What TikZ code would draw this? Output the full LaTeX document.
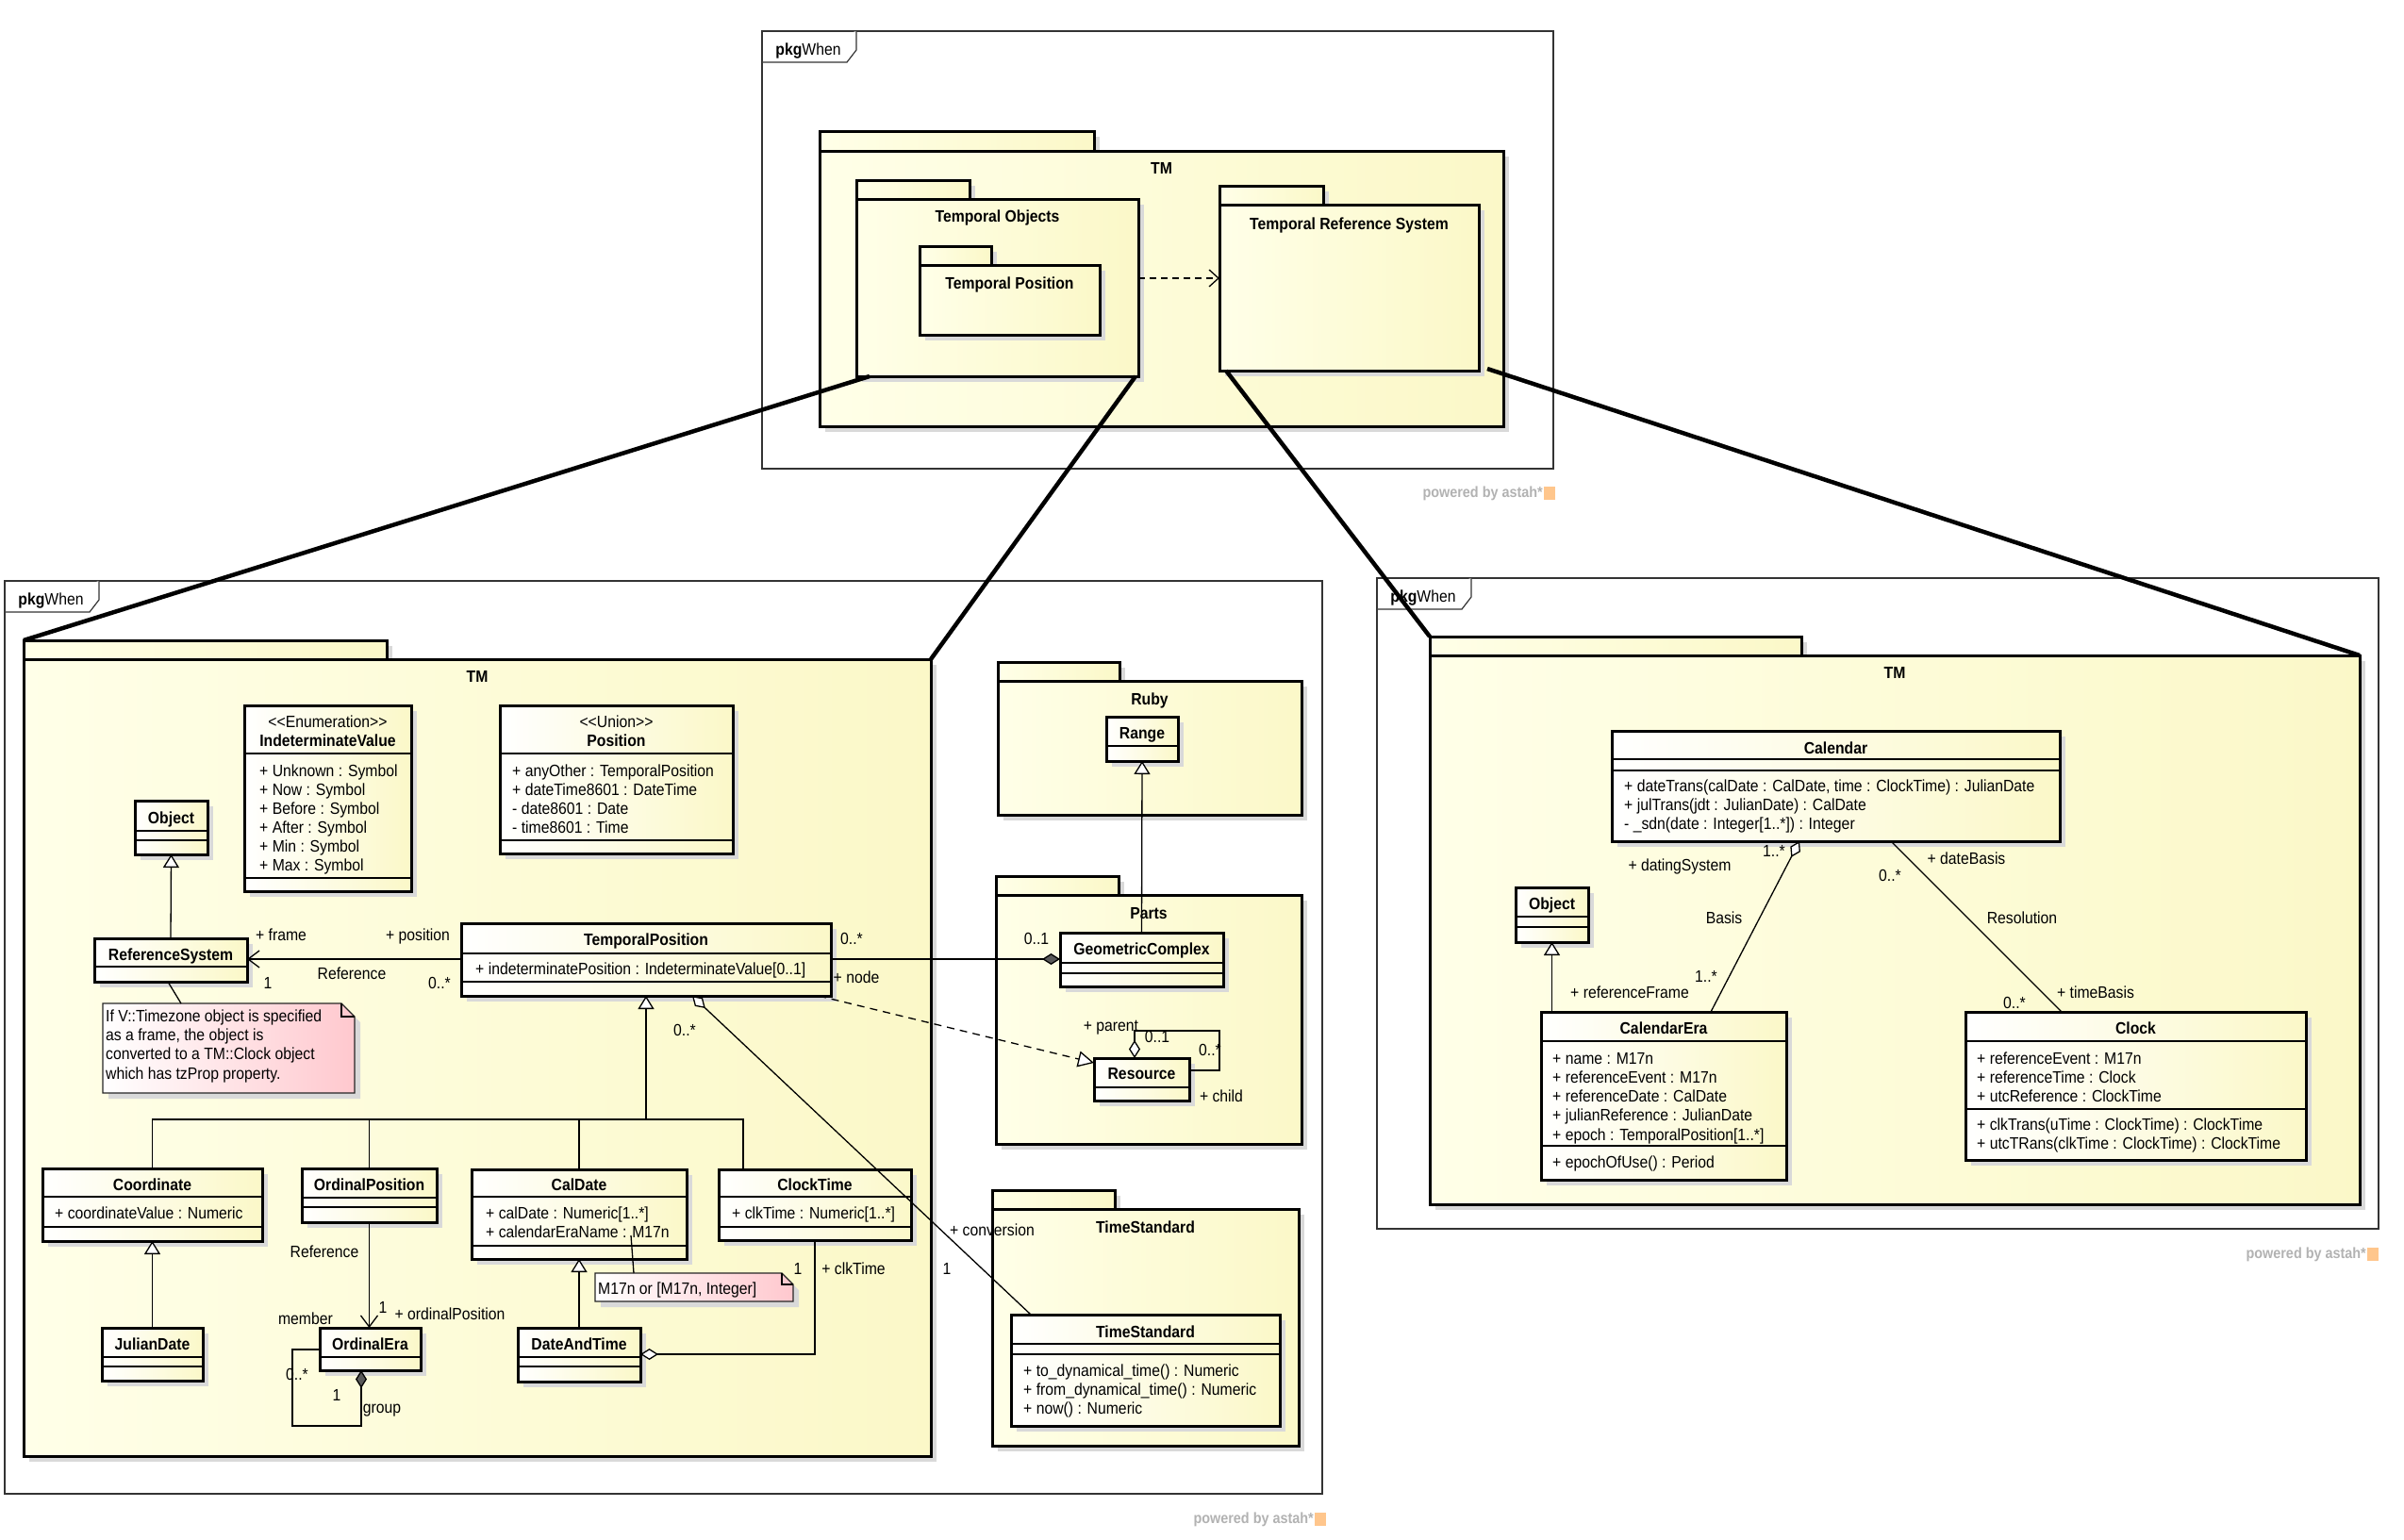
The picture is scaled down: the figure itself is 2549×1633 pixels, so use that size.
\documentclass[tikz,border=0pt]{standalone}
\usepackage{fontspec}
\setmainfont{Liberation Sans}[FakeStretch=0.9]
\usetikzlibrary{arrows.meta, positioning, shadows}
\definecolor{umlyel}{RGB}{251,248,200}
\definecolor{umlpale}{RGB}{255,255,232}
\definecolor{notepink}{RGB}{255,200,206}
\tikzset{
    frmline/.style={draw=black!80, line width=1.2pt},
    frm/.style={frmline, fill=white, anchor=north west, inner sep=0pt, outer sep=0pt},
    pkg/.style={draw=black, line width=3pt, left color=umlpale, right color=umlyel, drop shadow={shadow xshift=6pt, shadow yshift=-6pt, fill=black!15, opacity=1}, anchor=north west, inner sep=0pt, outer sep=0pt},
    cls/.style={pkg, left color=white},
    notebox/.style={anchor=north west, inner sep=0pt, outer sep=0pt},
    notefill/.style={draw=black!85, line width=1.2pt, left color=white, right color=notepink, drop shadow={shadow xshift=6pt, shadow yshift=-6pt, fill=black!15, opacity=1}},
    sep/.style={line width=1.2pt},
    txt/.style={inner sep=0pt, yshift=-1.5pt, font=\fontsize{17.5}{20}\selectfont, text height=12.5pt, text depth=3.5pt},
    attr/.style={txt, anchor=west},
    cname/.style={txt, font=\fontsize{17.5}{20}\selectfont\bfseries},
    link/.style={line width=1.3pt},
    navi/.style={link, -{Straight Barb[length=12pt, width=18pt]}},
    gen/.style={link, -{Triangle[length=14pt, width=17pt, fill=white]}},
    aggr/.style={link, {Diamond[length=19pt, width=12pt, fill=white]}-},
    comp/.style={link, {Diamond[length=19pt, width=12pt, fill=black!65]}-},
    dep/.style={link, dash pattern=on 7pt off 5pt, -{Straight Barb[length=10pt, width=18pt]}},
    realize/.style={link, dash pattern=on 8pt off 6pt, -{Triangle[length=17pt, width=17pt, fill=white]}},
    bigline/.style={line width=4.5pt},
    astah/.style={inner sep=0pt, anchor=east, text=black!30, font=\fontsize{16}{18}\selectfont\bfseries},
    astlogo/.style={inner sep=0pt, minimum width=12pt, minimum height=14pt, fill=orange!45}
}
\begin{document}
\begin{tikzpicture}[x=1pt, y=-1pt]
    \useasboundingbox (0,0) rectangle (2549,1633);
    \fill[white] (0,0) rectangle (2549,1633);

    \node[frm, minimum width=839pt, minimum height=464pt] (frameT) at (808,33) {};
    \draw[frm] ([xshift=100pt]frameT.north west) -- ++(0,20) -- ++(-10,13) -- ++(-90,0);
    \node[txt] (frameTlbl) at ([xshift=49pt, yshift=-19pt]frameT.north west) {\textbf{pkg}When};
    \node[pkg, minimum width=291pt, minimum height=21pt] (tmTtab) at (869,139) {};
    \node[pkg, minimum width=725pt, minimum height=292pt] (tmT) at (tmTtab.south west) {};
    \node[cname] (tmTlbl) at ([yshift=-18pt]tmT.north) {TM};
    \node[pkg, minimum width=120pt, minimum height=20pt] (tobjtab) at (908,191) {};
    \node[pkg, minimum width=299pt, minimum height=188pt] (tobj) at (tobjtab.south west) {};
    \node[cname] (tobjlbl) at ([yshift=-18pt]tobj.north) {Temporal Objects};
    \node[pkg, minimum width=76pt, minimum height=20pt] (tpostab) at (975,261) {};
    \node[pkg, minimum width=191pt, minimum height=74pt] (tpos) at (tpostab.south west) {};
    \node[cname] (tposlbl) at ([yshift=-19pt]tpos.north) {Temporal Position};
    \node[pkg, minimum width=110pt, minimum height=20pt] (trstab) at (1293,197) {};
    \node[pkg, minimum width=275pt, minimum height=176pt] (trs) at (trstab.south west) {};
    \node[cname] (trslbl) at ([yshift=-20pt]trs.north) {Temporal Reference System};
    \draw[dep] (tobj.east |- 0,295) -- (trs.west |- 0,295);
    \node[astah] (astT) at (1636,523) {powered by astah*};
    \node[astlogo, right=1pt of astT] (astTlogo) {};

    \node[frm, minimum width=1397pt, minimum height=968pt] (frameM) at (5,616) {};
    \draw[frm] ([xshift=100pt]frameM.north west) -- ++(0,20) -- ++(-10,13) -- ++(-90,0);
    \node[txt] (frameMlbl) at ([xshift=49pt, yshift=-19pt]frameM.north west) {\textbf{pkg}When};
    \node[pkg, minimum width=385pt, minimum height=20pt] (tmLtab) at (25,679) {};
    \node[pkg, minimum width=962pt, minimum height=845pt] (tmL) at (tmLtab.south west) {};
    \node[cname] (tmLlbl) at ([yshift=-18pt]tmL.north) {TM};

    \node[cls, minimum width=177pt, minimum height=197pt] (indval) at (259,748) {};
    \draw[sep] (indval.west |- 0,799) -- (indval.east |- 0,799);
    \draw[sep] (indval.west |- 0,931) -- (indval.east |- 0,931);
    \node[txt] (indvalS) at (indval.north |- 0,765) {<\kern0pt<Enumeration>\kern0pt>};
    \node[cname] (indvalN) at (indval.north |- 0,785) {IndeterminateValue};
    \foreach \v [count=\i] in {Unknown, Now, Before, After, Min, Max}
        \node[attr] (indval\i) at (275,797+20*\i) {+ \v{} : Symbol};

    \node[cls, minimum width=247pt, minimum height=157pt] (pos) at (530,748) {};
    \draw[sep] (pos.west |- 0,799) -- (pos.east |- 0,799);
    \draw[sep] (pos.west |- 0,891) -- (pos.east |- 0,891);
    \node[txt] (posS) at (pos.north |- 0,765) {<\kern0pt<Union>\kern0pt>};
    \node[cname] (posN) at (pos.north |- 0,785) {Position};
    \foreach \v [count=\i] in {{+ anyOther : TemporalPosition}, {+ dateTime8601 : DateTime}, {- date8601 : Date}, {- time8601 : Time}}
        \node[attr] (pos\i) at (543,797+20*\i) {\v};

    \node[cls, minimum width=77pt, minimum height=57pt] (objL) at (143,849) {};
    \draw[sep] (objL.west |- 0,881) -- (objL.east |- 0,881);
    \draw[sep] (objL.west |- 0,891) -- (objL.east |- 0,891);
    \node[cname] (objLN) at (objL.north |- 0,867) {Object};

    \node[cls, minimum width=162pt, minimum height=46pt] (refsys) at (100,995) {};
    \draw[sep] (refsys.west |- 0,1025) -- (refsys.east |- 0,1025);
    \node[cname] (refsysN) at (refsys.north |- 0,1012) {ReferenceSystem};

    \node[cls, minimum width=392pt, minimum height=77pt] (tp) at (489,979) {};
    \draw[sep] (tp.west |- 0,1011) -- (tp.east |- 0,1011);
    \draw[sep] (tp.west |- 0,1041) -- (tp.east |- 0,1041);
    \node[cname] (tpN) at (tp.north |- 0,996) {TemporalPosition};
    \node[attr] (tpA) at (504,1027) {+ indeterminatePosition : IndeterminateValue[0..1]};

    \node[notebox, minimum width=267pt, minimum height=95pt] (note1) at (109,1064) {};
    \path[notefill] (note1.north west) -- ([xshift=-14pt]note1.north east) -- ([yshift=-14pt]note1.north east) -- (note1.south east) -- (note1.south west) -- cycle;
    \draw[sep] ([xshift=-14pt]note1.north east) -- ++(0,14) -- ++(14,0);
    \foreach \v [count=\i] in {If V::Timezone object is specified, {as a frame, the object is}, converted to a TM::Clock object, which has tzProp property.}
        \node[attr] (note1l\i) at (112,1057+20.3*\i) {\v};

    \node[cls, minimum width=233pt, minimum height=77pt] (coordn) at (45,1239) {};
    \draw[sep] (coordn.west |- 0,1269) -- (coordn.east |- 0,1269);
    \draw[sep] (coordn.west |- 0,1301) -- (coordn.east |- 0,1301);
    \node[cname] (coordnN) at (coordn.north |- 0,1256) {Coordinate};
    \node[attr] (coordnA) at (58,1286) {+ coordinateValue : Numeric};

    \node[cls, minimum width=107pt, minimum height=56pt] (julian) at (108,1408) {};
    \draw[sep] (julian.west |- 0,1439) -- (julian.east |- 0,1439);
    \draw[sep] (julian.west |- 0,1449) -- (julian.east |- 0,1449);
    \node[cname] (julianN) at (julian.north |- 0,1425) {JulianDate};

    \node[cls, minimum width=143pt, minimum height=57pt] (ordpos) at (320,1239) {};
    \draw[sep] (ordpos.west |- 0,1270) -- (ordpos.east |- 0,1270);
    \draw[sep] (ordpos.west |- 0,1280) -- (ordpos.east |- 0,1280);
    \node[cname] (ordposN) at (ordpos.north |- 0,1256) {OrdinalPosition};

    \node[cls, minimum width=107pt, minimum height=45pt] (ordera) at (339,1408) {};
    \draw[sep] (ordera.west |- 0,1439) -- (ordera.east |- 0,1439);
    \node[cname] (orderaN) at (ordera.north |- 0,1425) {OrdinalEra};

    \node[cls, minimum width=228pt, minimum height=95pt] (caldate) at (500,1240) {};
    \draw[sep] (caldate.west |- 0,1269) -- (caldate.east |- 0,1269);
    \draw[sep] (caldate.west |- 0,1321) -- (caldate.east |- 0,1321);
    \node[cname] (caldateN) at (caldate.north |- 0,1256) {CalDate};
    \node[attr] (caldate1) at (515,1286) {+ calDate : Numeric[1..*]};
    \node[attr] (caldate2) at (515,1306) {+ calendarEraName : M17n};

    \node[cls, minimum width=204pt, minimum height=75pt] (clocktime) at (762,1240) {};
    \draw[sep] (clocktime.west |- 0,1269) -- (clocktime.east |- 0,1269);
    \draw[sep] (clocktime.west |- 0,1301) -- (clocktime.east |- 0,1301);
    \node[cname] (clocktimeN) at (clocktime.north |- 0,1256) {ClockTime};
    \node[attr] (clocktimeA) at (776,1286) {+ clkTime : Numeric[1..*]};

    \node[cls, minimum width=130pt, minimum height=57pt] (dat) at (549,1408) {};
    \draw[sep] (dat.west |- 0,1439) -- (dat.east |- 0,1439);
    \draw[sep] (dat.west |- 0,1449) -- (dat.east |- 0,1449);
    \node[cname] (datN) at (dat.north |- 0,1425) {DateAndTime};

    \node[notebox, minimum width=210pt, minimum height=30pt] (note2) at (631,1350) {};
    \path[notefill] (note2.north west) -- ([xshift=-12pt]note2.north east) -- ([yshift=-12pt]note2.north east) -- (note2.south east) -- (note2.south west) -- cycle;
    \draw[sep] ([xshift=-12pt]note2.north east) -- ++(0,12) -- ++(12,0);
    \node[attr] (note2l) at (634,1366) {M17n or [M17n, Integer]};
    \coordinate (eraName) at (669,1310);

    \node[pkg, minimum width=129pt, minimum height=20pt] (rubytab) at (1058,702) {};
    \node[pkg, minimum width=322pt, minimum height=142pt] (ruby) at (rubytab.south west) {};
    \node[cname] (rubylbl) at ([yshift=-19pt]ruby.north) {Ruby};
    \node[cls, minimum width=76pt, minimum height=47pt] (range) at (1173,760) {};
    \draw[sep] (range.west |- 0,791) -- (range.east |- 0,791);
    \node[cname] (rangeN) at (range.north |- 0,777) {Range};

    \node[pkg, minimum width=130pt, minimum height=20pt] (partstab) at (1056,929) {};
    \node[pkg, minimum width=324pt, minimum height=264pt] (parts) at (partstab.south west) {};
    \node[cname] (partslbl) at ([yshift=-19pt]parts.north) {Parts};
    \node[cls, minimum width=173pt, minimum height=57pt] (geo) at (1124,989) {};
    \draw[sep] (geo.west |- 0,1021) -- (geo.east |- 0,1021);
    \draw[sep] (geo.west |- 0,1032) -- (geo.east |- 0,1032);
    \node[cname] (geoN) at (geo.north |- 0,1006) {GeometricComplex};
    \node[cls, minimum width=101pt, minimum height=45pt] (resource) at (1160,1122) {};
    \draw[sep] (resource.west |- 0,1153) -- (resource.east |- 0,1153);
    \node[cname] (resourceN) at (resource.north |- 0,1138) {Resource};

    \node[pkg, minimum width=130pt, minimum height=20pt] (tspkgtab) at (1052,1262) {};
    \node[pkg, minimum width=325pt, minimum height=251pt] (tspkg) at (tspkgtab.south west) {};
    \node[cname] (tspkglbl) at ([yshift=-19pt]tspkg.north) {TimeStandard};
    \node[cls, minimum width=285pt, minimum height=118pt] (tscls) at (1072,1394) {};
    \draw[sep] (tscls.west |- 0,1425) -- (tscls.east |- 0,1425);
    \draw[sep] (tscls.west |- 0,1436) -- (tscls.east |- 0,1436);
    \node[cname] (tsclsN) at (tscls.north |- 0,1412) {TimeStandard};
    \foreach \v [count=\i] in {{+ to\_dynamical\_time() : Numeric}, {+ from\_dynamical\_time() : Numeric}, {+ now() : Numeric}}
        \node[attr] (tscls\i) at (1085,1433+20*\i) {\v};

    \draw[gen] (refsys.north) -- (objL.south);
    \draw[navi] (tp.west |- 0,1017) -- (refsys.east |- 0,1017);
    \draw[link] ([xshift=83pt]note1.north west) -- ([xshift=-3pt]refsys.south);
    \coordinate (gtree) at (tp.south |- 0,1187);
    \draw[link] (coordn.north) |- (gtree);
    \draw[link] (ordpos.north) |- (gtree);
    \draw[link] (caldate.north) |- (gtree);
    \draw[link] ([xshift=-76pt]clocktime.north) |- (gtree);
    \draw[gen] (gtree) -- (tp.south);
    \draw[gen] (julian.north) -- (coordn.south);
    \draw[navi] (ordpos.south) -- (ordpos.south |- ordera.north);
    \draw[comp] ([xshift=-9.5pt]ordera.south) |- (310,1512) |- (ordera.west |- 0,1431);
    \draw[gen] (dat.north) -- (caldate.south);
    \draw[aggr] (dat.east |- 0,1436) -| (clocktime.south);
    \draw[link] ([xshift=41pt]note2.north west) -- (eraName);
    \draw[comp] (geo.west |- 0,1017) -- (tp.east |- 0,1017);
    \draw[gen] (geo.north) -- (range.south);
    \draw[aggr] ([xshift=-7.5pt]resource.north) |- (1293,1093) |- (resource.east |- 0,1135);
    \draw[realize] ([xshift=-13pt]tp.south east) -- ([yshift=-5pt]resource.north west);
    \draw[aggr] ([xshift=49pt]tp.south) -- ([xshift=-121.5pt]tscls.north);

    \node[txt] (lframe) at (298,991) {+ frame};
    \node[txt] (lposition) at (443,991) {+ position};
    \node[txt] (lref1) at (373,1032) {Reference};
    \node[txt] (lrefm1) at (284,1042) {1};
    \node[txt] (lrefm2) at (466,1042) {0..*};
    \node[txt] (lref2) at (344,1327) {Reference};
    \node[txt] (lordm1) at (406,1386) {1};
    \node[txt] (lordpos) at (477,1393) {+ ordinalPosition};
    \node[txt] (lmember) at (324,1398) {member};
    \node[txt] (lgrpm1) at (315,1457) {0..*};
    \node[txt] (lgrpm2) at (357,1479) {1};
    \node[txt] (lgroup) at (405,1492) {group};
    \node[txt] (lclkm) at (846,1345) {1};
    \node[txt] (lclk) at (905,1345) {+ clkTime};
    \node[txt] (lnodem1) at (903,995) {0..*};
    \node[txt] (lnode) at (908,1036) {+ node};
    \node[txt] (lnodem2) at (1099,995) {0..1};
    \node[txt] (lconvm1) at (726,1092) {0..*};
    \node[txt] (lconv) at (1052,1304) {+ conversion};
    \node[txt] (lconvm2) at (1004,1345) {1};
    \node[txt] (lparent) at (1178,1087) {+ parent};
    \node[txt] (lparentm) at (1227,1099) {0..1};
    \node[txt] (lchildm) at (1283,1113) {0..*};
    \node[txt] (lchild) at (1295,1162) {+ child};
    \node[astah] (astM) at (1393,1611) {powered by astah*};
    \node[astlogo, right=1pt of astM] (astMlogo) {};

    \node[frm, minimum width=1062pt, minimum height=690pt] (frameR) at (1460,613) {};
    \draw[frm] ([xshift=100pt]frameR.north west) -- ++(0,20) -- ++(-10,13) -- ++(-90,0);
    \node[txt] (frameRlbl) at ([xshift=49pt, yshift=-19pt]frameR.north west) {\textbf{pkg}When};
    \node[pkg, minimum width=394pt, minimum height=20pt] (tmRtab) at (1516,675) {};
    \node[pkg, minimum width=986pt, minimum height=582pt] (tmR) at (tmRtab.south west) {};
    \node[cname] (tmRlbl) at ([yshift=-18pt]tmR.north) {TM};

    \node[cls, minimum width=475pt, minimum height=117pt] (calendar) at (1709,775) {};
    \draw[sep] (calendar.west |- 0,805) -- (calendar.east |- 0,805);
    \draw[sep] (calendar.west |- 0,817) -- (calendar.east |- 0,817);
    \node[cname] (calendarN) at (calendar.north |- 0,793) {Calendar};
    \foreach \v [count=\i] in {{+ dateTrans(calDate : CalDate, time : ClockTime) : JulianDate}, {+ julTrans(jdt : JulianDate) : CalDate}, {- \_sdn(date : Integer[1..*]) : Integer}}
        \node[attr] (calendar\i) at (1722,813+20*\i) {\v};

    \node[cls, minimum width=77pt, minimum height=58pt] (objR) at (1607,941) {};
    \draw[sep] (objR.west |- 0,972) -- (objR.east |- 0,972);
    \draw[sep] (objR.west |- 0,983) -- (objR.east |- 0,983);
    \node[cname] (objRN) at (objR.north |- 0,958) {Object};

    \node[cls, minimum width=260pt, minimum height=178pt] (calera) at (1634,1073) {};
    \draw[sep] (calera.west |- 0,1104) -- (calera.east |- 0,1104);
    \draw[sep] (calera.west |- 0,1215) -- (calera.east |- 0,1215);
    \node[cname] (caleraN) at (calera.north |- 0,1090) {CalendarEra};
    \foreach \v [count=\i] in {{+ name : M17n}, {+ referenceEvent : M17n}, {+ referenceDate : CalDate}, {+ julianReference : JulianDate}, {+ epoch : TemporalPosition[1..*]}}
        \node[attr] (calera\i) at (1646,1102+20.2*\i) {\v};
    \node[attr] (caleraO) at (1646,1232) {+ epochOfUse() : Period};

    \node[cls, minimum width=361pt, minimum height=157pt] (clock) at (2084,1073) {};
    \draw[sep] (clock.west |- 0,1104) -- (clock.east |- 0,1104);
    \draw[sep] (clock.west |- 0,1176) -- (clock.east |- 0,1176);
    \node[cname] (clockN) at (clock.north |- 0,1090) {Clock};
    \foreach \v [count=\i] in {{+ referenceEvent : M17n}, {+ referenceTime : Clock}, {+ utcReference : ClockTime}}
        \node[attr] (clock\i) at (2096,1102+20*\i) {\v};
    \node[attr] (clockO1) at (2096,1192) {+ clkTrans(uTime : ClockTime) : ClockTime};
    \node[attr] (clockO2) at (2096,1212) {+ utcTRans(clkTime : ClockTime) : ClockTime};

    \draw[gen] (objR.south |- calera.north) -- (objR.south);
    \draw[aggr] ([xshift=-38.5pt]calendar.south) -- ([xshift=50pt]calera.north);
    \draw[link] ([xshift=58.5pt]calendar.south) -- ([xshift=-78.5pt]clock.north);
    \node[txt] (lbasm1) at (1881,902) {1..*};
    \node[txt] (ldating) at (1781,917) {+ datingSystem};
    \node[txt] (lbasis) at (1828,973) {Basis};
    \node[txt] (lbasm2) at (1809,1035) {1..*};
    \node[txt] (lrefframe) at (1728,1052) {+ referenceFrame};
    \node[txt] (ldatebasis) at (2085,910) {+ dateBasis};
    \node[txt] (lresm1) at (2004,928) {0..*};
    \node[txt] (lres) at (2144,973) {Resolution};
    \node[txt] (ltimebasis) at (2222,1052) {+ timeBasis};
    \node[txt] (lresm2) at (2136,1063) {0..*};
    \node[astah] (astR) at (2509,1330) {powered by astah*};
    \node[astlogo, right=1pt of astR] (astRlogo) {};

    \draw[bigline] ([xshift=14pt]tobj.south west) -- (tmLtab.north west);
    \draw[bigline] ([xshift=-3pt]tobj.south east) -- (tmL.north east);
    \draw[bigline] ([xshift=7pt]trs.south west) -- (tmRtab.north west);
    \draw[bigline] ([xshift=9pt, yshift=2pt]trs.south east) -- (tmR.north east);
\end{tikzpicture}
\end{document}
